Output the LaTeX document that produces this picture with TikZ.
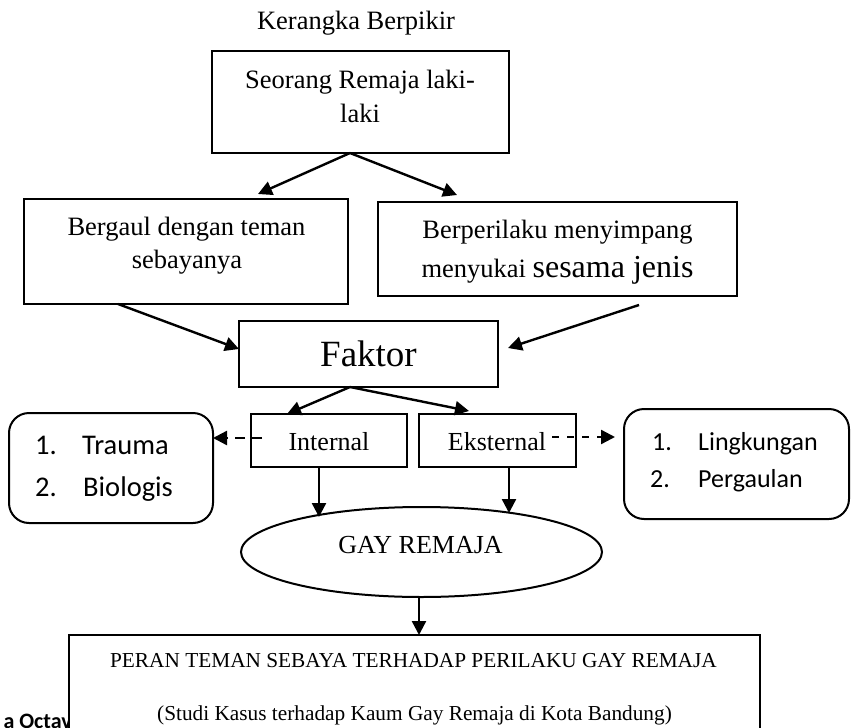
\documentclass[tikz,border=0pt]{standalone}
\usepackage{fontspec}
\setmainfont{Liberation Serif}
\newfontfamily\calfont{Carlito}
\usetikzlibrary{arrows.meta,shapes.geometric,calc}
\newcommand\setfs[1]{\fontsize{#1}{#1}\selectfont}
\begin{document}
\begin{tikzpicture}[x=1pt,y=-1pt,
  box/.style={draw,line width=2pt,inner sep=0pt,outer sep=0pt,fill=white},
  rbox/.style={box,rounded corners=20pt},
  txt/.style={anchor=base,inner sep=0pt},
  ltxt/.style={anchor=base west,inner sep=0pt},
  arr/.style={line width=2.4pt,-{Triangle[length=14pt,width=14pt]}},
  darr/.style={line width=2.4pt,dash pattern=on 10pt off 7pt,-{Triangle[length=14pt,width=14pt]}},
  darrb/.style={line width=2.4pt,dash pattern=on 7pt off 8pt,-{Triangle[length=14pt,width=14pt]}}]
\useasboundingbox (0,0) rectangle (857,728);

% clipped footer text
\node[anchor=base east,inner sep=0pt,font=\calfont\bfseries\setfs{22}] (foot) at (72,728) {a Octav};

% boxes
\node[box,minimum width=297pt,minimum height=102pt] (top) at (360.5,102) {};
\node[box,minimum width=324pt,minimum height=105pt] (left) at (186,251.5) {};
\node[box,minimum width=359pt,minimum height=94pt] (right) at (557.5,249) {};
\node[box,minimum width=259pt,minimum height=66pt] (faktor) at (368.5,354) {};
\node[box,minimum width=156pt,minimum height=53pt] (int) at (329,440.5) {};
\node[box,minimum width=157pt,minimum height=53pt] (eks) at (497.5,440.5) {};
\node[rbox,minimum width=204pt,minimum height=110pt] (lbox) at (111,468) {};
\node[rbox,minimum width=225pt,minimum height=110pt] (rbox) at (736.5,464) {};
\node[box,ellipse,minimum width=361pt,minimum height=90pt] (ell) at (421.5,552) {};
\node[box,minimum width=691pt,minimum height=145pt] (bottom) at (414.5,707.5) {};

% texts
\node[txt,font=\setfs{26.5}] (title) at (356,29) {Kerangka Berpikir};
\node[txt,font=\setfs{26.5}] (top1) at (360,88) {Seorang Remaja laki-};
\node[txt,font=\setfs{26.5}] (top2) at (360,122) {laki};
\node[txt,font=\setfs{26.5}] (left1) at (186.5,235) {Bergaul dengan teman};
\node[txt,font=\setfs{26.5}] (left2) at (187,268) {sebayanya};
\node[txt,font=\setfs{26.5}] (right1) at (557.5,238) {Berperilaku menyimpang};
\node[txt,font=\setfs{26.5}] (right2) at (557.5,277) {menyukai {\setfs{32}sesama jenis}};
\node[txt,font=\setfs{37}] (faktort) at (368.5,366) {Faktor};
\node[txt,font=\setfs{26}] (intt) at (329,450) {Internal};
\node[txt,font=\setfs{26}] (ekst) at (497,450) {Eksternal};
\node[ltxt,font=\calfont\setfs{28.5}] (l1n) at (35,454) {1.};
\node[ltxt,font=\calfont\setfs{28.5}] (l1t) at (82,454) {Trauma};
\node[ltxt,font=\calfont\setfs{28.5}] (l2n) at (35,496) {2.};
\node[ltxt,font=\calfont\setfs{28.5}] (l2t) at (83,496) {Biologis};
\node[ltxt,font=\calfont\setfs{26}] (r1n) at (652,450) {1.};
\node[ltxt,font=\calfont\setfs{26}] (r1t) at (698,450) {Lingkungan};
\node[ltxt,font=\calfont\setfs{26}] (r2n) at (650,487) {2.};
\node[ltxt,font=\calfont\setfs{26}] (r2t) at (698,487) {Pergaulan};
\node[txt,font=\setfs{26}] (gay) at (420.5,553) {GAY REMAJA};
\node[txt,font=\setfs{21.3}] (b1) at (413.5,667) {PERAN TEMAN SEBAYA TERHADAP PERILAKU GAY REMAJA};
\node[txt,font=\setfs{21.3}] (b2) at (414.5,720) {(Studi Kasus terhadap Kaum Gay Remaja di Kota Bandung)};

% connectors
\draw[arr] ($(top.south)+(-10.5,0)$) -- ($(left.north)+(72,-5)$);
\draw[arr] ($(top.south)+(-10.5,0)$) -- ($(right.north)+(-100.5,-7)$);
\draw[arr] ($(left.south)+(-68,0)$) -- ($(faktor.west)+(0,-5)$);
\draw[arr] ($(right.south)+(81.5,9)$) -- ($(faktor.east)+(10,-6)$);
\draw[arr] ($(faktor.south)+(-18.5,0)$) -- ($(int.north)+(-42,0)$);
\draw[arr] ($(faktor.south)+(-18.5,0)$) -- ($(eks.north)+(-28.5,-3)$);
\draw[darr] ($(int.west)+(11,-2.5)$) -- ($(lbox.east)+(0,-30)$);
\draw[darrb] ($(eks.east)+(-24,-3.5)$) -- ($(rbox.west)+(-9,-27)$);
\draw[arr] ($(int.south)+(-10,0)$) -- ($(ell.north)+(-102.5,10)$);
\draw[arr] ($(eks.south)+(11.5,0)$) -- ($(ell.north)+(87.5,6)$);
\draw[arr] ($(ell.south)+(-2.5,0)$) -- ($(bottom.north)+(4.5,0)$);
\end{tikzpicture}
\end{document}
